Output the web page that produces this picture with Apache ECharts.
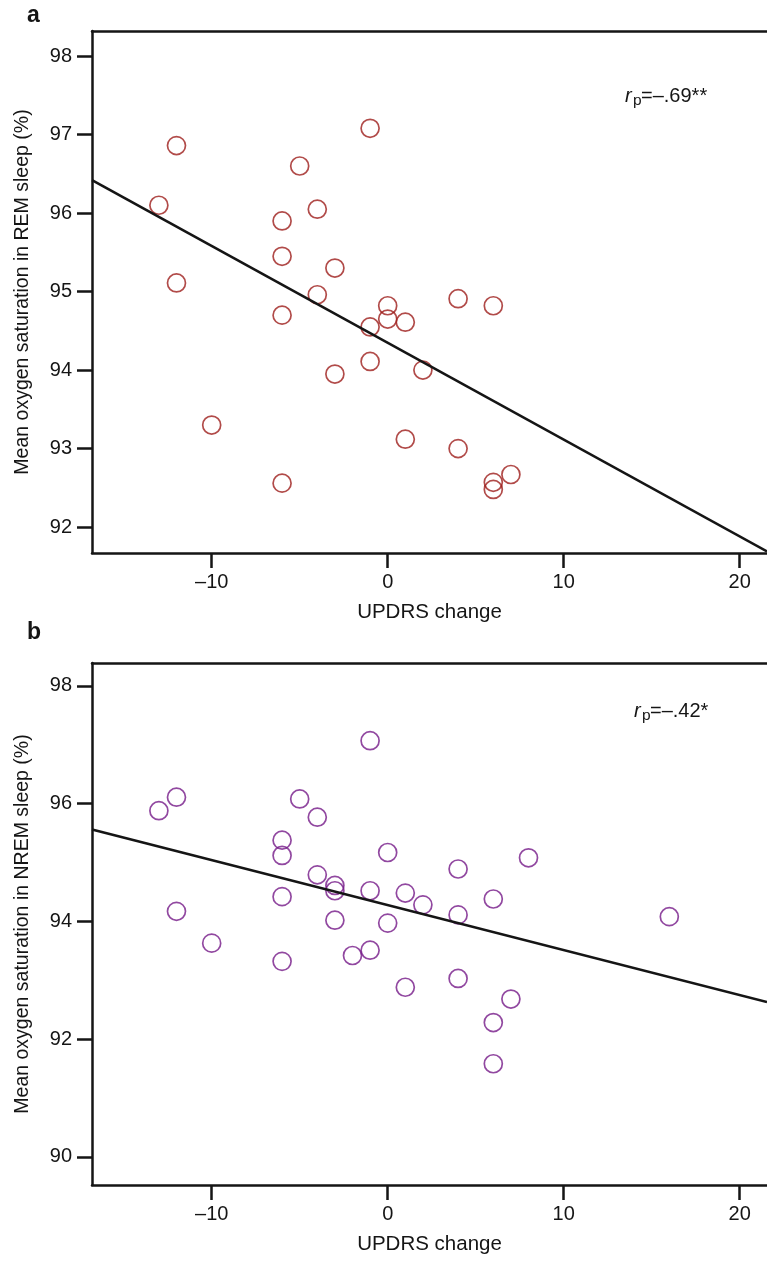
<!DOCTYPE html>
<html><head><meta charset="utf-8">
<script src="https://cdn.jsdelivr.net/npm/echarts@6/dist/echarts.min.js"></script>
<style>html,body{margin:0;padding:0;background:#fff}#c{width:767px;height:1264px}</style>
</head><body><div id="c"></div>
<script>
// Panel a: REM sleep
const remX = [-1,-12,-5,-13,-4,-6,-6,-3,-12,-4,-6,0,0,-1,1,4,6,-1,-3,2,-10,1,4,-6,6,6,7];
const remY = [97.08,96.86,96.60,96.10,96.05,95.90,95.45,95.30,95.11,94.96,94.70,94.82,94.65,94.55,94.61,94.91,94.82,94.11,93.95,94.00,93.30,93.12,93.00,92.56,92.57,92.48,92.67];
// Panel b: NREM sleep
const nremX = [-1,-12,-13,-5,-4,-6,-6,0,-4,-3,-3,-1,1,2,-6,-12,-3,0,-10,-6,-2,-1,1,4,8,6,4,16,4,7,6,6];
const nremY = [97.07,96.11,95.88,96.08,95.77,95.38,95.12,95.17,94.79,94.61,94.52,94.52,94.48,94.28,94.42,94.17,94.02,93.97,93.63,93.32,93.42,93.51,92.88,94.89,95.08,94.38,94.11,94.08,93.03,92.68,92.28,91.58];
// Regression lines (at axis extents)
const fitX = [-16.8, 21.55];
const remFitY = [96.42, 91.69];
const nremFitY = [95.56, 92.63];
// Ticks
const xTicks = [-10, 0, 10, 20];
const remTicks = [92, 93, 94, 95, 96, 97, 98];
const nremTicks = [90, 92, 94, 96, 98];
const xRange = [-16.8, 21.55];
const remRange = [91.67, 98.32];
const nremRange = [89.52, 98.39];

const FONT = "'Liberation Sans', Arial, Helvetica, sans-serif";
const INK = '#151515';
const fmt = v => v < 0 ? '\u2013' + Math.abs(v) : String(v);

function bottomX(gi) {
  return {
    gridIndex: gi, type: 'value', min: xRange[0], max: xRange[1], position: 'bottom',
    axisLine: { show: true, onZero: false, lineStyle: { color: INK, width: 2.5 } },
    axisTick: { show: true, customValues: xTicks, length: 15, lineStyle: { color: INK, width: 2.5 } },
    axisLabel: { customValues: xTicks, formatter: fmt, fontSize: 20, fontFamily: FONT, color: INK, margin: 19 },
    splitLine: { show: false },
    name: 'UPDRS change', nameLocation: 'middle', nameGap: 49,
    nameTextStyle: { fontSize: 20.5, fontFamily: FONT, color: INK }
  };
}
function topX(gi) {
  return {
    gridIndex: gi, type: 'value', min: xRange[0], max: xRange[1], position: 'top',
    axisLine: { show: true, onZero: false, lineStyle: { color: INK, width: 2.5 } },
    axisTick: { show: false }, axisLabel: { show: false }, splitLine: { show: false }
  };
}
function leftY(gi, range, ticks, name) {
  return {
    gridIndex: gi, type: 'value', min: range[0], max: range[1],
    axisLine: { show: true, onZero: false, lineStyle: { color: INK, width: 2.5 } },
    axisTick: { show: true, customValues: ticks, length: 15, lineStyle: { color: INK, width: 2.5 } },
    axisLabel: { customValues: ticks, fontSize: 20, fontFamily: FONT, color: INK, margin: 20 },
    splitLine: { show: false },
    name: name, nameLocation: 'middle', nameGap: 59,
    nameTextStyle: { fontSize: 19.5, fontFamily: FONT, color: INK }
  };
}
function scatter(xi, yi, xs, ys, color) {
  return {
    type: 'scatter', xAxisIndex: xi, yAxisIndex: yi,
    data: xs.map((x, i) => [x, ys[i]]),
    symbol: 'circle', symbolSize: 18,
    itemStyle: { color: 'rgba(255,255,255,0)', borderColor: color, borderWidth: 1.7 },
    z: 3
  };
}
function fit(xi, yi, ys) {
  return {
    type: 'line', xAxisIndex: xi, yAxisIndex: yi,
    data: fitX.map((x, i) => [x, ys[i]]),
    symbol: 'none', lineStyle: { color: INK, width: 2.6 }, z: 4
  };
}
function txt(x, y, text, size, opts) {
  return { type: 'text', x: x, y: y, silent: true,
    style: Object.assign({ text: text, fill: INK, font: size + 'px ' + FONT, verticalAlign: 'middle', align: 'left' }, opts || {}) };
}

const chart = echarts.init(document.getElementById('c'), null, { renderer: 'canvas' });
chart.setOption({
  animation: false,
  backgroundColor: '#fff',
  grid: [
    { left: 92, top: 31, width: 675, height: 522 },
    { left: 92, top: 663, width: 675, height: 522 }
  ],
  xAxis: [bottomX(0), topX(0), bottomX(1), topX(1)],
  yAxis: [
    leftY(0, remRange, remTicks, 'Mean oxygen saturation in REM sleep (%)'),
    leftY(1, nremRange, nremTicks, 'Mean oxygen saturation in NREM sleep (%)')
  ],
  series: [
    scatter(0, 0, remX, remY, '#9E1E1B'),
    fit(0, 0, remFitY),
    scatter(2, 1, nremX, nremY, '#761A88'),
    fit(2, 1, nremFitY)
  ],
  graphic: [
    txt(27, 15.5, 'a', 23, { font: 'bold 23px ' + FONT }),
    txt(27, 633, 'b', 23, { font: 'bold 23px ' + FONT }),
    txt(625, 96, 'r', 20, { font: 'italic 20px ' + FONT }),
    txt(633, 101, 'p', 15.5),
    txt(641, 96, '=\u2013.69**', 20),
    txt(634, 711, 'r', 20, { font: 'italic 20px ' + FONT }),
    txt(642, 716, 'p', 15.5),
    txt(650, 711, '=\u2013.42*', 20)
  ]
});
</script></body></html>
